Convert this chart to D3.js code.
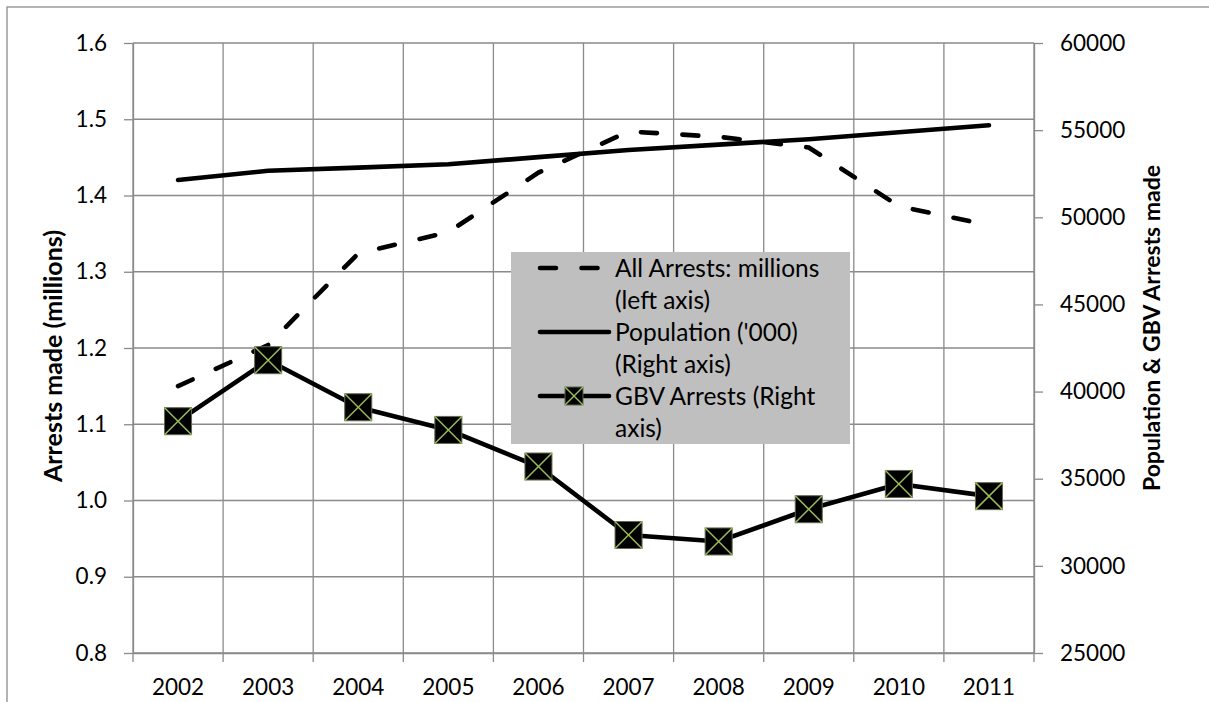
<!DOCTYPE html>
<html>
<head>
<meta charset="utf-8">
<script src="https://cdn.jsdelivr.net/npm/d3@7"></script>
<style>
  html, body { margin: 0; padding: 0; background: #fff; }
  svg { display: block; font-family: Lato, "Open Sans", sans-serif; }
</style>
</head>
<body>
<svg id="chart" width="1209" height="702"></svg>
<script>
// ---- data ----
const years = ["2002","2003","2004","2005","2006","2007","2008","2009","2010","2011"];
const allArrests = [1.150, 1.204, 1.324, 1.352, 1.430, 1.484, 1.477, 1.463, 1.386, 1.361];
const population = [52140, 52670, 52850, 53040, 53450, 53860, 54170, 54480, 54880, 55280];
const gbvArrests = [38300, 41800, 39100, 37800, 35700, 31770, 31400, 33250, 34700, 34000];
const leftTicks = [0.8, 0.9, 1.0, 1.1, 1.2, 1.3, 1.4, 1.5, 1.6];
const rightTicks = [25000, 30000, 35000, 40000, 45000, 50000, 55000, 60000];
const legendLabels = [
  ["All Arrests: millions", "(left axis)"],
  ["Population ('000)", "(Right axis)"],
  ["GBV Arrests (Right", "axis)"]
];
const leftTitle = "Arrests made (millions)";
const rightTitle = "Population & GBV Arrests made";

// ---- layout ----
const plot = { left: 133, right: 1034, top: 43, bottom: 653 };
const gridColor = "#8a8a8a";
const fontSize = 22.5;

const svg = d3.select("#chart");

// outer chart border
svg.append("rect").attr("x", 7).attr("y", 7).attr("width", 1230).attr("height", 740)
  .attr("fill", "#fff").attr("stroke", "#8c8c8c").attr("stroke-width", 1.3);

const x = d3.scaleBand().domain(years).range([plot.left, plot.right]).padding(0);
const cx = d => x(d) + x.bandwidth() / 2;
const yL = d3.scaleLinear().domain([0.8, 1.6]).range([plot.bottom, plot.top]);
const yR = d3.scaleLinear().domain([25000, 60000]).range([plot.bottom, plot.top]);

// gridlines
const boundaries = years.map(d => x(d)).concat([x.range()[1]]);
svg.append("g").selectAll("line").data(leftTicks).join("line")
  .attr("x1", plot.left).attr("x2", plot.right)
  .attr("y1", d => yL(d)).attr("y2", d => yL(d))
  .attr("stroke", gridColor).attr("stroke-width", 1.3);
svg.append("g").selectAll("line").data(boundaries).join("line")
  .attr("x1", d => d).attr("x2", d => d)
  .attr("y1", plot.top).attr("y2", plot.bottom)
  .attr("stroke", gridColor).attr("stroke-width", 1.3);

// axes
function styleAxis(g) {
  g.selectAll(".domain").attr("stroke", gridColor).attr("stroke-width", 1.3);
  g.selectAll(".tick line").attr("stroke", gridColor).attr("stroke-width", 1.3);
  g.selectAll("text").attr("font-size", fontSize).attr("fill", "#000")
    .attr("font-family", "Lato, sans-serif");
}
const axL = svg.append("g").attr("transform", `translate(${plot.left},0)`)
  .call(d3.axisLeft(yL).tickValues(leftTicks).tickFormat(d3.format(".1f"))
    .tickSize(9).tickPadding(17).tickSizeOuter(0));
styleAxis(axL);
const axR = svg.append("g").attr("transform", `translate(${plot.right},0)`)
  .call(d3.axisRight(yR).tickValues(rightTicks).tickFormat(d3.format("d"))
    .tickSize(9).tickPadding(17).tickSizeOuter(0));
styleAxis(axR);
const axB = svg.append("g").attr("transform", `translate(0,${plot.bottom})`)
  .call(d3.axisBottom(x).tickSize(0).tickSizeOuter(0));
styleAxis(axB);
axB.selectAll("text").attr("y", 42).attr("dy", 0);
axB.append("g").selectAll("line").data(boundaries).join("line")
  .attr("x1", d => d).attr("x2", d => d).attr("y1", 0).attr("y2", 9)
  .attr("stroke", gridColor).attr("stroke-width", 1.3);

// axis titles
svg.append("text").attr("transform", `translate(62,356) rotate(-90)`)
  .attr("text-anchor", "middle").attr("font-weight", "bold").attr("font-size", 25)
  .text(leftTitle);
svg.append("text").attr("transform", `translate(1160,328) rotate(-90)`)
  .attr("text-anchor", "middle").attr("font-weight", "bold").attr("font-size", 23)
  .text(rightTitle);

// series lines
const lw = 4.6;
svg.append("path").datum(years.map((d, i) => [cx(d), yL(allArrests[i])]))
  .attr("d", d3.line()).attr("fill", "none").attr("stroke", "#000")
  .attr("stroke-width", lw).attr("stroke-linecap", "round").attr("stroke-dasharray", "16,25.5");
svg.append("path").datum(years.map((d, i) => [cx(d), yR(population[i])]))
  .attr("d", d3.line()).attr("fill", "none").attr("stroke", "#000")
  .attr("stroke-width", lw).attr("stroke-linecap", "round").attr("stroke-linejoin", "round");
svg.append("path").datum(years.map((d, i) => [cx(d), yR(gbvArrests[i])]))
  .attr("d", d3.line()).attr("fill", "none").attr("stroke", "#000")
  .attr("stroke-width", lw).attr("stroke-linecap", "round").attr("stroke-linejoin", "round");

function marker(g, mx, my, s) {
  const h = s / 2;
  g.append("rect").attr("x", mx - h).attr("y", my - h).attr("width", s).attr("height", s)
    .attr("fill", "#000").attr("stroke", "#5f6b4a").attr("stroke-width", 1);
  g.append("line").attr("x1", mx - h).attr("y1", my - h).attr("x2", mx + h).attr("y2", my + h)
    .attr("stroke", "#9bbb59").attr("stroke-width", 1.5);
  g.append("line").attr("x1", mx - h).attr("y1", my + h).attr("x2", mx + h).attr("y2", my - h)
    .attr("stroke", "#9bbb59").attr("stroke-width", 1.5);
}
const mk = svg.append("g");
years.forEach((d, i) => marker(mk, cx(d), yR(gbvArrests[i]), 27));

// legend
const lg = svg.append("g");
lg.append("rect").attr("x", 511).attr("y", 252).attr("width", 339).attr("height", 192).attr("fill", "#bfbfbf");
const rowY = [268, 332, 396];
lg.append("line").attr("x1", 540).attr("x2", 603).attr("y1", rowY[0]).attr("y2", rowY[0])
  .attr("stroke", "#000").attr("stroke-width", lw).attr("stroke-linecap", "round").attr("stroke-dasharray", "16,25.5");
lg.append("line").attr("x1", 540).attr("x2", 609).attr("y1", rowY[1]).attr("y2", rowY[1])
  .attr("stroke", "#000").attr("stroke-width", lw).attr("stroke-linecap", "round");
lg.append("line").attr("x1", 540).attr("x2", 609).attr("y1", rowY[2]).attr("y2", rowY[2])
  .attr("stroke", "#000").attr("stroke-width", lw).attr("stroke-linecap", "round");
marker(lg, 574, rowY[2], 18);
legendLabels.forEach((lines, i) => {
  lines.forEach((t, j) => {
    lg.append("text").attr("x", 615).attr("y", rowY[i] + j * 32 + 8.5)
      .attr("font-size", 24.5).attr("fill", "#000").text(t);
  });
});
</script>
</body>
</html>
